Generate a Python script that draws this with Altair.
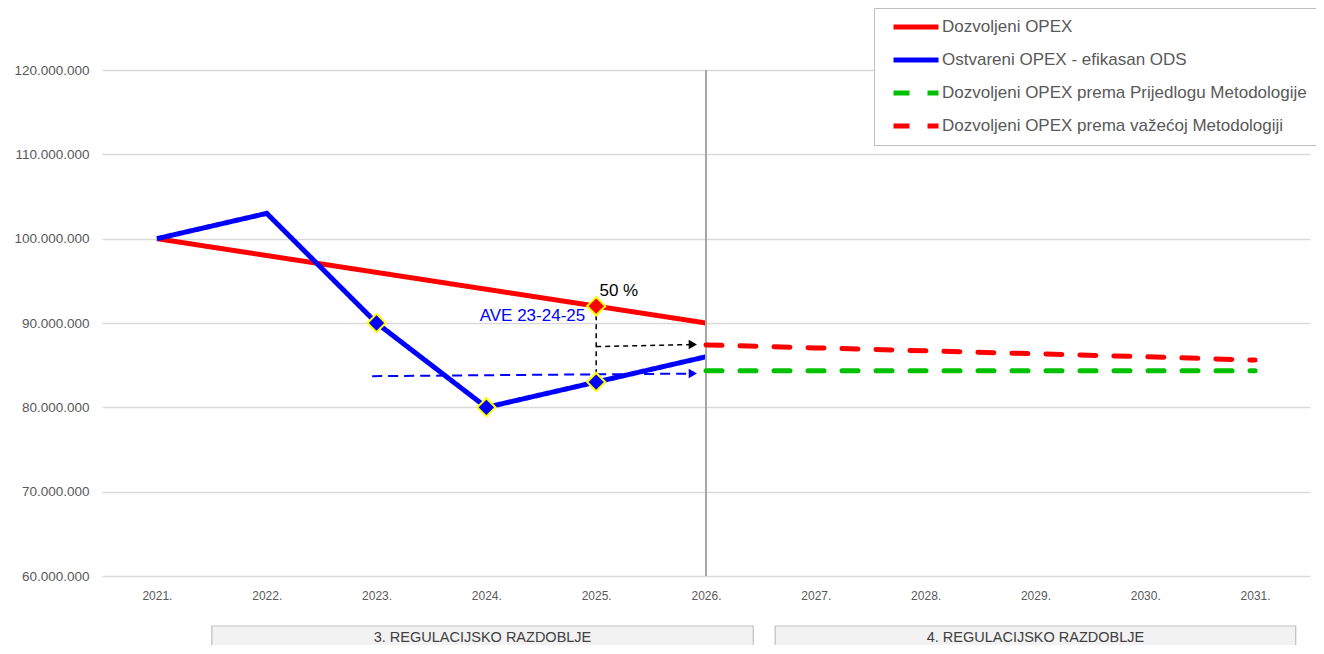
import altair as alt
import pandas as pd

# ---------------- data ----------------
years = [2021, 2022, 2023, 2024, 2025, 2026, 2027, 2028, 2029, 2030, 2031]

series_names = [
    "Dozvoljeni OPEX",
    "Ostvareni OPEX - efikasan ODS",
    "Dozvoljeni OPEX prema Prijedlogu Metodologije",
    "Dozvoljeni OPEX prema važećoj Metodologiji",
]
series_colors = ["#ff0000", "#0000ff", "#00c000", "#ff0000"]
series_dash = [[1, 0], [1, 0], [16, 18], [16, 18]]

period_years = [2021, 2022, 2023, 2024, 2025, 2026]
allowed_opex = [100000000, 98000000, 96000000, 94000000, 92000000, 90000000]
actual_opex = [100000000, 103000000, 90000000, 80000000, 83000000, 86000000]

future_years = [2026, 2027, 2028, 2029, 2030, 2031]
proposal_opex = [84330000, 84330000, 84330000, 84330000, 84330000, 84330000]
current_opex = [87400000, 87050000, 86700000, 86350000, 86000000, 85600000]

marker_years = [2023, 2024, 2025, 2025]
marker_values = [90000000, 80000000, 83000000, 92000000]
marker_fill = ["#0000ff", "#0000ff", "#0000ff", "#ff0000"]

# annotation arrows
share_drop_x = [2025, 2025]
share_drop_y = [92000000, 83000000]
share_arrow_x = [2025, 2025.88]
share_arrow_y = [87200000, 87450000]
ave_arrow_x = [2022.96, 2025.88]
ave_arrow_y = [83700000, 84000000]
head_x = [2025.88, 2025.88]
head_y = [87450000, 84000000]
head_fill = ["#000000", "#0000ff"]

notes = ["50 %", "AVE 23-24-25"]
note_x = [2025.03, 2024.9]
note_y = [93800000, 90800000]

divider_year = [2026]
y_min, y_max = 60000000, 120000000
y_ticks = [60000000, 70000000, 80000000, 90000000, 100000000, 110000000, 120000000]

period_labels = ["3. REGULACIJSKO RAZDOBLJE", "4. REGULACIJSKO RAZDOBLJE"]
period_start = [2021.5, 2026.63]
period_end = [2026.43, 2031.37]

# ---------------- frames ----------------
solid_df = pd.DataFrame(
    {"year": period_years + period_years,
     "value": allowed_opex + actual_opex,
     "series": [series_names[0]] * 6 + [series_names[1]] * 6}
)
dashed_df = pd.DataFrame(
    {"year": future_years + future_years,
     "value": proposal_opex + current_opex,
     "series": [series_names[2]] * 6 + [series_names[3]] * 6}
)
marker_df = pd.DataFrame({"year": marker_years, "value": marker_values, "fill": marker_fill})
drop_df = pd.DataFrame({"year": share_drop_x, "value": share_drop_y})
share_df = pd.DataFrame({"year": share_arrow_x, "value": share_arrow_y})
ave_df = pd.DataFrame({"year": ave_arrow_x, "value": ave_arrow_y})
head_df = pd.DataFrame({"year": head_x, "value": head_y, "fill": head_fill})
note_df = pd.DataFrame({"year": note_x, "value": note_y, "text": notes})
div_df = pd.DataFrame({"year": divider_year, "y0": [y_min], "y1": [y_max]})
period_df = pd.DataFrame({"label": period_labels, "start": period_start, "end": period_end})

W, H = 1208, 506
x_scale = alt.Scale(domain=[2020.5, 2031.5], nice=False, zero=False)
y_scale = alt.Scale(domain=[y_min, y_max], nice=False, zero=False)

X = alt.X("year:Q", scale=x_scale, title=None,
          axis=alt.Axis(values=years, labelExpr="datum.value + '.'", grid=False,
                        domain=False, ticks=False, labelPadding=14, labelFontSize=12,
                        labelColor="#595959", labelFlush=False))
Y = alt.Y("value:Q", scale=y_scale, title=None,
          axis=alt.Axis(values=y_ticks,
                        labelExpr="replace(replace(format(datum.value, ','), ',', '.'), ',', '.')",
                        grid=True, gridColor="#d9d9d9", gridWidth=1.5, domain=False,
                        ticks=False, labelPadding=13, labelFontSize=13.5,
                        labelColor="#595959"))
Xp = alt.X("year:Q", scale=x_scale)
Yp = alt.Y("value:Q", scale=y_scale)

color_enc = alt.Color(
    "series:N",
    scale=alt.Scale(domain=series_names, range=series_colors),
    legend=alt.Legend(
        title=None, orient="none", legendX=772, legendY=-62,
        symbolType="stroke", symbolSize=2025, symbolStrokeWidth=5,
        symbolOffset=7, labelOffset=1, clipHeight=18, rowPadding=15,
        labelFontSize=17, labelColor="#595959", labelLimit=600,
        padding=10, fillColor="white", strokeColor="#bfbfbf",
    ),
)
dash_enc = alt.StrokeDash("series:N", scale=alt.Scale(domain=series_names, range=series_dash))

solid = alt.Chart(solid_df).mark_line(strokeWidth=5, strokeCap="butt", strokeJoin="miter").encode(
    x=X, y=Y, color=color_enc, strokeDash=dash_enc, order=alt.Order("year:Q")
)
dashed = alt.Chart(dashed_df).mark_line(strokeWidth=5, strokeCap="round").encode(
    x=Xp, y=Yp, color=color_enc, strokeDash=dash_enc, order=alt.Order("year:Q")
)

divider = alt.Chart(div_df).mark_rule(color="#a6a6a6", strokeWidth=2).encode(
    x=Xp, y=alt.Y("y0:Q", scale=y_scale), y2="y1:Q"
)

boxes = alt.Chart(period_df).mark_rect(fill="#f2f2f2", stroke="#bfbfbf", strokeWidth=1.2).encode(
    x=alt.X("start:Q", scale=x_scale), x2="end:Q",
    y=alt.value(H + 50), y2=alt.value(H + 100)
)
box_text = alt.Chart(period_df).transform_calculate(
    mid="(datum.start + datum.end) / 2"
).mark_text(fontSize=14.5, color="#404040", baseline="middle").encode(
    x=alt.X("mid:Q", scale=x_scale), y=alt.value(H + 62), text="label:N"
)

drop = alt.Chart(drop_df).mark_line(color="#000000", strokeWidth=1.5, strokeDash=[5, 4]).encode(x=Xp, y=Yp)
share = alt.Chart(share_df).mark_line(color="#000000", strokeWidth=1.5, strokeDash=[5, 4]).encode(x=Xp, y=Yp)
ave = alt.Chart(ave_df).mark_line(color="#0000ff", strokeWidth=2, strokeDash=[10, 6]).encode(x=Xp, y=Yp)
heads = alt.Chart(head_df).mark_point(shape="triangle-right", filled=True, size=90, opacity=1).encode(
    x=Xp, y=Yp, fill=alt.Fill("fill:N", scale=None)
)

markers = alt.Chart(marker_df).mark_point(
    shape="diamond", filled=True, size=330, stroke="#ffff00", strokeWidth=2, opacity=1
).encode(x=Xp, y=Yp, fill=alt.Fill("fill:N", scale=None))

note_left = alt.Chart(note_df.iloc[[0]]).mark_text(
    align="left", baseline="middle", fontSize=17, color="#000000"
).encode(x=Xp, y=Yp, text="text:N")
note_right = alt.Chart(note_df.iloc[[1]]).mark_text(
    align="right", baseline="middle", fontSize=17, color="#0000ff"
).encode(x=Xp, y=Yp, text="text:N")

chart = alt.layer(
    solid, divider, boxes, box_text, dashed, drop, share, ave, heads, markers, note_left, note_right
).properties(
    width=W, height=H,
    padding={"left": 94, "top": 62, "right": 6, "bottom": 69},
    autosize=alt.AutoSizeParams(type="none"),
).configure(
    font="Liberation Sans",
).configure_view(stroke=None)

chart.save("out.html", embed_options={"renderer": "svg", "actions": False})
